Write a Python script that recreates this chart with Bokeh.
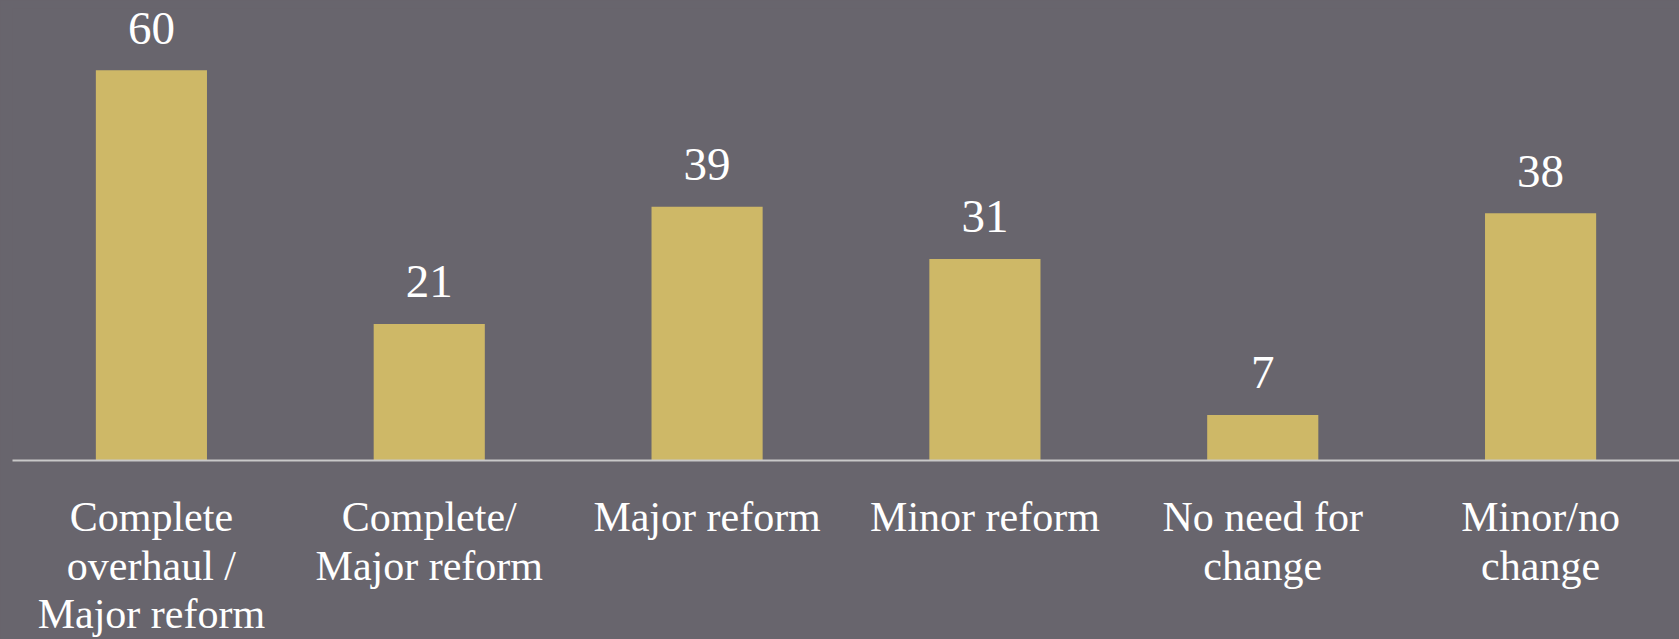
from bokeh.plotting import figure
from bokeh.models import ColumnDataSource, Range1d, FactorRange, CategoricalAxis, CustomJSTickFormatter
from bokeh.core.properties import value
from bokeh.embed import file_html
from bokeh.resources import INLINE

categories = ["Complete\noverhaul /\nMajor reform", "Complete/\nMajor reform", "Major reform",
              "Minor reform", "No need for\nchange", "Minor/no\nchange"]
values = [60, 21, 39, 31, 7, 38]
value_labels = [str(v) for v in values]

BG = "#68656d"
BAR = "#ceb867"
FONT = "Liberation Serif"

src = ColumnDataSource(dict(cat=categories, val=values, lab=value_labels))

p = figure(x_range=FactorRange(*categories, range_padding=0), y_range=Range1d(0, 69.5),
           width=1679, height=639, output_backend="svg", toolbar_location=None,
           min_border_left=12, min_border_right=0, min_border_top=8, min_border_bottom=179)
p.background_fill_color = BG
p.border_fill_color = BG
p.outline_line_color = None
p.grid.grid_line_color = None
p.yaxis.visible = False

p.vbar(x="cat", top="val", width=0.4, source=src, fill_color=BAR, line_color=None)
p.text(x="cat", y="val", text="lab", source=src, y_offset=-42, text_align="center",
       text_baseline="alphabetic", text_color="white", text_font=value(FONT),
       text_font_size="47px")


def line_formatter(k):
    return CustomJSTickFormatter(code="""
        const parts = String(tick).split('\\n');
        return parts.length > %d ? parts[%d] : ' ';
    """ % (k, k))


standoffs = [33, 0, -1]
for k in range(3):
    if k == 0:
        ax = p.xaxis[0]
        ax.axis_line_color = "#c8c8c8"
        ax.axis_line_width = 2
    else:
        ax = CategoricalAxis()
        ax.axis_line_color = None
        p.add_layout(ax, "below")
    ax.formatter = line_formatter(k)
    ax.major_tick_line_color = None
    ax.minor_tick_line_color = None
    ax.major_tick_out = 0
    ax.major_tick_in = 0
    ax.minor_tick_out = 0
    ax.major_label_standoff = standoffs[k]
    ax.major_label_text_color = "white"
    ax.major_label_text_font = FONT
    ax.major_label_text_font_size = "42px"
    ax.major_label_orientation = "horizontal"

html = file_html(p, INLINE)
html = html.replace("<head>", "<head><style>html, body { background: %s; }</style>" % BG, 1)
open("out.html", "w").write(html)
